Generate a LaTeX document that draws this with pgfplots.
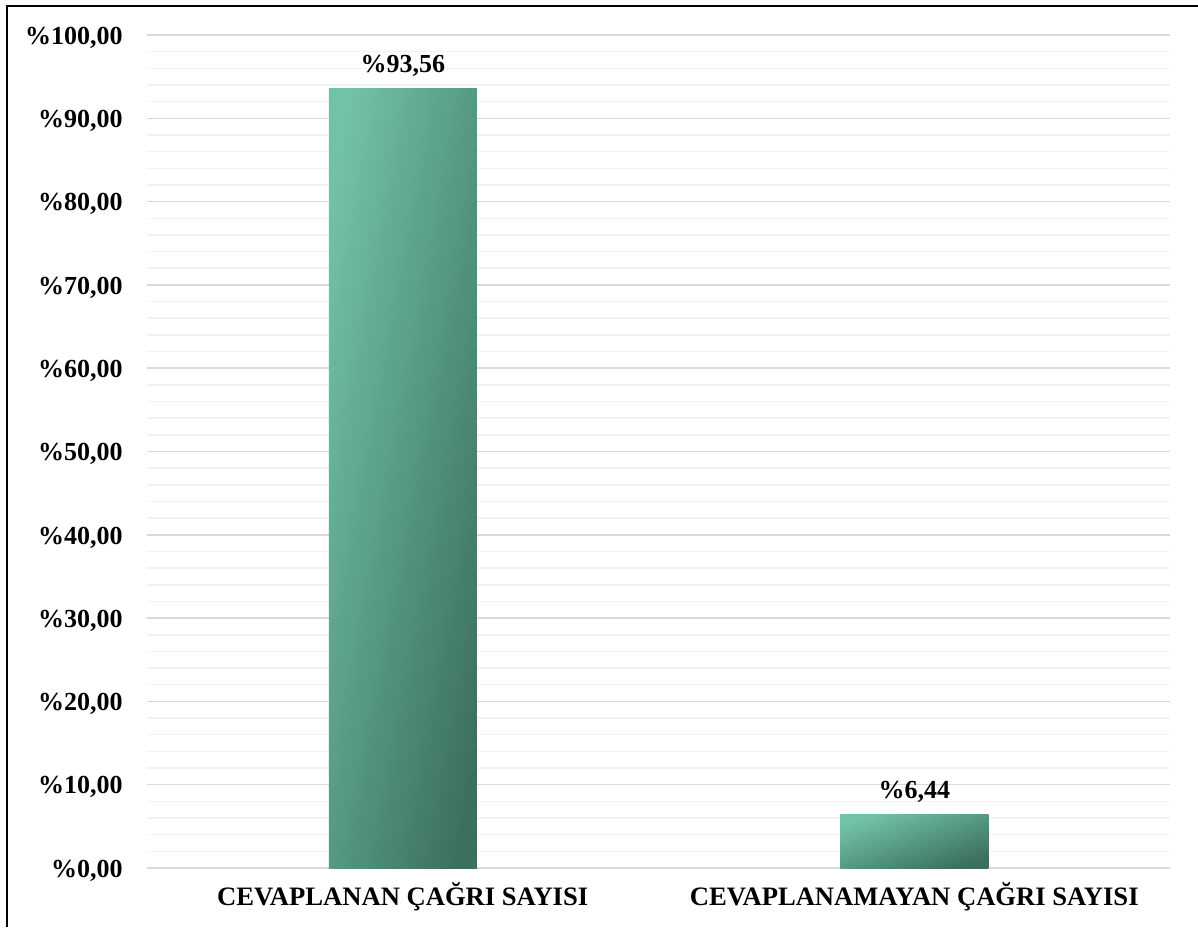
\documentclass[border=0pt]{standalone}
\usepackage{pgfplots}
\pgfplotsset{compat=1.18}
\usepackage{fontspec}
\setmainfont{Liberation Serif}
\definecolor{barlight}{HTML}{72C2A8}
\definecolor{bardark}{HTML}{3B705E}
\definecolor{majgrid}{HTML}{D9D9D9}
\definecolor{mingrid}{HTML}{F2F2F2}
\newcommand{\lbl}{\bfseries\fontsize{13}{15}\selectfont}
\newcommand{\catlbl}{\bfseries\fontsize{13.3}{15}\selectfont}
\begin{document}
\begin{tikzpicture}
\useasboundingbox (0,0) rectangle (599pt,463.5pt);
\draw[line width=1pt,black] (3.25pt,0) -- (3.25pt,460.25pt) -- (599pt,460.25pt);
\begin{axis}[
  at={(73.5pt,29.5pt)}, anchor=south west,
  scale only axis, width=511.5pt, height=416.5pt,
  xmin=-0.5, xmax=1.5, ymin=0, ymax=100,
  xtick={0,1},
  xticklabels={CEVAPLANAN ÇAĞRI SAYISI, CEVAPLANAMAYAN ÇAĞRI SAYISI},
  ytick={0,10,...,100},
  yticklabels={{\%0,00},{\%10,00},{\%20,00},{\%30,00},{\%40,00},{\%50,00},{\%60,00},{\%70,00},{\%80,00},{\%90,00},{\%100,00}},
  minor y tick num=4,
  ymajorgrids, yminorgrids,
  major grid style={majgrid, line width=0.75pt},
  minor grid style={mingrid, line width=0.75pt},
  axis line style={draw=none},
  major tick length=0pt, minor tick length=0pt,
  tick style={draw=none},
  yticklabel style={font=\lbl, anchor=base east, inner sep=0pt, xshift=-12pt, yshift=-4.6pt},
  xticklabel style={font=\catlbl, anchor=base, inner sep=0pt, yshift=-18.5pt},
  clip=false,
  barstyle/.style={ybar, bar width=74pt, bar shift=0pt, draw=none, mark=none,
    top color=barlight, bottom color=bardark,
    point meta=explicit symbolic, nodes near coords,
    every node near coord/.append style={font=\lbl, text=black, anchor=base, inner sep=0pt, yshift=8pt}},
]
\addplot[barstyle, shading angle=79.3] coordinates {(0,93.56) [{\%93,56}]};
\addplot[barstyle, shading angle=20] coordinates {(1,6.44) [{\%6,44}]};
\end{axis}
\end{tikzpicture}
\end{document}
